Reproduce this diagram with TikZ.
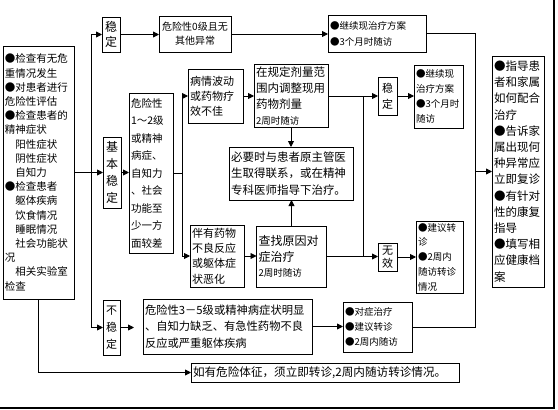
\documentclass[tikz,border=0pt]{standalone}
\usepackage{fontspec}
\setmainfont{Noto Sans CJK SC}
\usetikzlibrary{arrows.meta}
\newcommand\myfs[2]{\fontsize{#1}{#2}\selectfont}
\tikzset{
  bx/.style={draw, line width=0.9pt, inner sep=2pt, outer sep=0pt},
  arr/.style={line width=0.9pt, -{Triangle[length=6pt,width=6pt]}},
  ln/.style={line width=0.9pt},
}
\begin{document}
\begin{tikzpicture}[x=1pt,y=-1pt]
\useasboundingbox (0,0) rectangle (558,410);
\fill[white] (0,0) rectangle (558,410);
% page border (right and bottom)
\draw[line width=1.2pt] (554,0) -- (554,408) -- (0,408);

% nodes
\node[bx, text width=67pt, minimum height=253pt, align=left, font=\myfs{10.5}{14.2}] (L) at (38.5,172.5)
 {●检查有无危\\重情况发生\\●对患者进行\\危险性评估\\●检查患者的\\精神症状\\\hspace*{1em}阳性症状\\\hspace*{1em}阴性症状\\\hspace*{1em}自知力\\●检查患者\\\hspace*{1em}躯体疾病\\\hspace*{1em}饮食情况\\\hspace*{1em}睡眠情况\\\hspace*{1em}社会功能状\\况\\\hspace*{1em}相关实验室\\检查};

\node[bx, text width=14pt, minimum height=35pt, align=center, font=\myfs{12}{15}] (S1) at (111,34.5) {稳\\定};
\node[bx, text width=14pt, minimum height=71pt, align=center, font=\myfs{12}{17}] (S2) at (112,172.5) {基\\本\\稳\\定};
\node[bx, text width=13pt, minimum height=55pt, align=center, font=\myfs{11}{17}] (S5) at (111.5,327.5) {不\\稳\\定};

\node[bx, text width=68pt, minimum height=36pt, align=center, font=\myfs{10}{14}] (R0) at (195,34) {危险性0级且无\\其他异常};
\node[bx, text width=94pt, minimum height=37pt, align=left, font=\myfs{9.5}{16}] (C0) at (377,33.5) {●继续现治疗方案\\●3个月时随访};

\node[bx, text width=40pt, minimum height=160pt, align=left, font=\myfs{10.5}{17.5}] (D1) at (151,173)
 {危险性\\1～2级\\或精神\\病症、\\自知力\\、社会\\功能至\\少一方\\面较差};

\node[bx, text width=51pt, minimum height=54pt, align=left, font=\myfs{11}{15}] (B1) at (215.5,96) {病情波动\\或药物疗\\效不佳};
\node[bx, text width=50pt, minimum height=62pt, align=left, font=\myfs{11}{15.3}] (B2) at (217,256) {伴有药物\\不良反应\\或躯体症\\状恶化};

\node[bx, text width=70pt, minimum height=62pt, align=left, font=\myfs{11.5}{16}] (A1) at (291,96) {在规定剂量范\\围内调整现用\\药物剂量\\{\myfs{9.5}{16}2周时随访}};
\node[bx, text width=120pt, minimum height=53pt, align=left, font=\myfs{11.5}{16.5}] (M) at (291,173.5) {必要时与患者原主管医\\生取得联系，或在精神\\专科医师指导下治疗。};
\node[bx, text width=66pt, minimum height=61pt, align=left, font=\myfs{12}{15.5}] (A2) at (291.5,256.5) {查找原因对\\症治疗\\{\myfs{9.5}{15.5}2周时随访}};

\node[bx, text width=15pt, minimum height=38pt, align=center, font=\myfs{11}{16}] (S3) at (387.5,96) {稳\\定};
\node[bx, text width=15pt, minimum height=28pt, align=center, font=\myfs{11}{13}] (S4) at (387.5,257) {无\\效};

\node[bx, text width=45pt, minimum height=63pt, align=left, font=\myfs{9.5}{15}] (C1) at (438.5,96.5) {●继续现\\治疗方案\\●3个月时\\随访};
\node[bx, text width=43pt, minimum height=72pt, align=left, font=\myfs{9.5}{14.7}] (C2) at (439.5,257) {●建议转\\诊\\●2周内\\随访转诊\\情况};

\node[bx, text width=165pt, minimum height=55pt, align=left, font=\myfs{11.3}{16.5}] (R3) at (227.5,326.5) {危险性3－5级或精神病症状明显\\、自知力缺乏、有急性药物不良\\反应或严重躯体疾病};
\node[bx, text width=65pt, minimum height=50pt, align=left, font=\myfs{9.5}{15}] (C3) at (377.5,327) {●对症治疗\\●建议转诊\\●2周内随访};

\node[bx, text width=48pt, minimum height=231pt, align=left, font=\myfs{11.5}{16.2}] (F) at (518,171.5)
 {●指导患\\者和家属\\如何配合\\治疗\\●告诉家\\属出现何\\种异常应\\立即复诊\\●有针对\\性的康复\\指导\\●填写相\\应健康档\\案};

\node[bx, text width=264pt, minimum height=19pt, align=left, font=\myfs{11.6}{14}] (W) at (325,372.5) {如有危险体征，须立即转诊,2周内随访转诊情况。};

% trunks
\coordinate (tr) at (91,0);
\coordinate (mt) at (182,0);
\coordinate (vt) at (363,0);
\coordinate (rt) at (475,0);

% connectors
\draw[arr] (L.east) -- (S2.west);
\draw[ln] (tr |- S1.west) -- (tr |- S5.west);
\draw[arr] (tr |- S1.west) -- (S1.west);
\draw[arr] (tr |- S5.west) -- (S5.west);

\draw[arr] (S1.east) -- (R0.west |- S1.east);
\draw[arr] (R0.east) -- (C0.west |- R0.east);
\draw[ln] (C0.east) -- (rt |- C0.east) -- (rt |- C3.east) -- (C3.east);
\draw[arr] (rt |- F.west) -- (F.west);

\draw[arr] (S2.east) -- (D1.west |- S2.east);
\draw[ln] (D1.east) -- (mt |- D1.east);
\draw[ln] (mt |- B1.west) -- (mt |- B2.west);
\draw[arr] (mt |- B1.west) -- (B1.west);
\draw[arr] (mt |- B2.west) -- (B2.west);

\draw[arr] (B1.east) -- (A1.west |- B1.east);
\draw[arr] (B2.east) -- (A2.west |- B2.east);
\draw[arr] (A1.south) -- (A1.south |- M.north);
\draw[arr] (A2.north) -- (A2.north |- M.south);

\draw[ln] (A1.east) -- (vt |- A1.east);
\draw[arr] (vt |- A1.east) -- (S3.west |- A1.east);
\draw[ln] (A2.east) -- (vt |- A2.east);
\draw[arr] (vt |- A2.east) -- (S4.west |- A2.east);
\draw[ln] (vt |- A1.east) -- (vt |- A2.east);

\draw[arr] (S3.east) -- (C1.west |- S3.east);
\draw[arr] (S4.east) -- (C2.west |- S4.east);

\draw[arr, shorten >=9pt] (S5.east) -- (R3.west |- S5.east);
\draw[arr] (R3.east) -- (C3.west |- R3.east);

\draw[arr] (L.south) |- (W.west);
\end{tikzpicture}
\end{document}
